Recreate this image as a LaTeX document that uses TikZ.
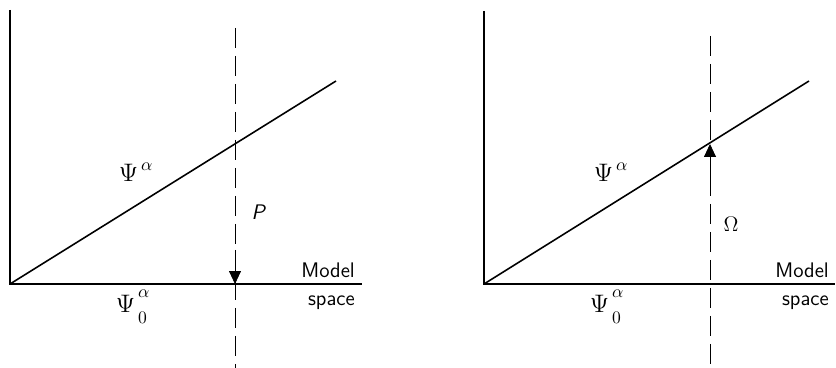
\documentclass[tikz,border=0pt]{standalone}
\usepackage{amsmath}
\usepackage{tikz}
\usetikzlibrary{arrows.meta}
\newcommand{\psiup}{\Psi^{\,\raisebox{1pt}{$\scriptstyle\alpha$}}}
\newcommand{\psinull}{\Psi^{\,\raisebox{3pt}{$\scriptstyle\alpha$}}_{\,\raisebox{-3pt}{$\scriptstyle 0$}}}

\begin{document}
\begin{tikzpicture}[x=0.02cm,y=-0.02cm]
\tikzstyle{axis}=[line width=1.2pt]
\tikzstyle{state}=[line width=0.9pt]
\tikzstyle{proj}=[line width=0.5pt,dash pattern=on 4mm off 1.6mm]
\tikzstyle{head}=[-{Triangle[length=2.6mm,width=2.4mm]},line width=0.5pt]
\tikzstyle{every node}=[font=\Large]
\tikzstyle{word}=[anchor=base east,font=\large\sffamily]
\useasboundingbox (0,0) rectangle (836,368);
% left panel: P
\coordinate (o1) at (10,284);
\coordinate (y1) at (10,10);
\coordinate (x1) at (362,284);
\coordinate (d1) at (336,81);
\coordinate (t1) at (235,28);
\coordinate (b1) at (235,368);
\coordinate (p1) at (235,284);
\coordinate (s1) at (235,250);
\draw[axis] (y1) -- (o1) -- (x1);
\draw[state] (o1) -- (d1);
\draw[proj] (t1) -- (b1);
\draw[head] (s1) -- (p1);
\node (psia) at (136,172) {$\psiup$};
\node (psi0a) at (133,307) {$\psinull$};
\node[font=\large] (lbP) at (259,212) {\textsf{\textit{P}}};
\node[word] (mod1) at (361,277) {Model};
\node[word] (spc1) at (361,305) {space};
% right panel: Omega
\coordinate (o2) at (484,284);
\coordinate (y2) at (484,11);
\coordinate (x2) at (835,284);
\coordinate (d2) at (809,81);
\coordinate (t2) at (710,36);
\coordinate (b2) at (710,368);
\coordinate (q2) at (710,144);
\coordinate (s2) at (710,180);
\draw[axis] (y2) -- (o2) -- (x2);
\draw[state] (o2) -- (d2);
\draw[proj] (t2) -- (b2);
\draw[head] (s2) -- (q2);
\node (psib) at (611,172) {$\psiup$};
\node (psi0b) at (607,307) {$\psinull$};
\node[font=\large] (lbO) at (731,224) {$\Omega$};
\node[word] (mod2) at (835,277) {Model};
\node[word] (spc2) at (835,305) {space};
\end{tikzpicture}
\end{document}
